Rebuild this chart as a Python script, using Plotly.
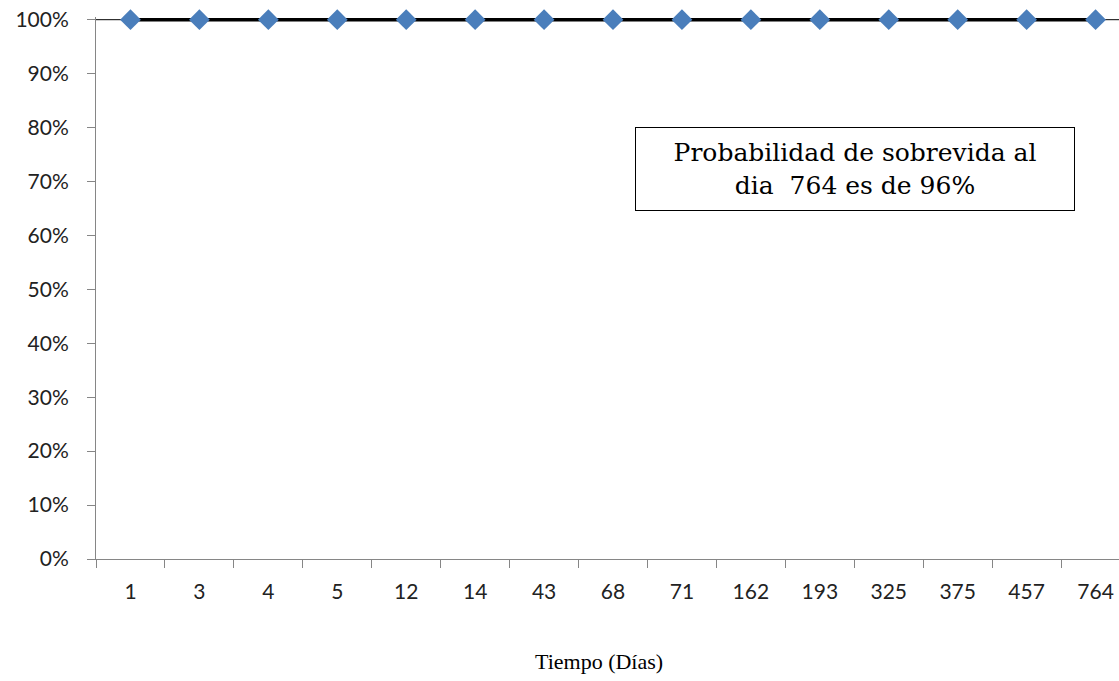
import plotly.graph_objects as go

# Survival curve: days and survival probability
dias = ["1", "3", "4", "5", "12", "14", "43", "68", "71", "162", "193", "325", "375", "457", "764"]
supervivencia = [1.0, 1.0, 1.0, 1.0, 1.0, 1.0, 1.0, 1.0, 1.0, 1.0, 1.0, 1.0, 1.0, 1.0, 1.0]
y_ticks = [0, 0.1, 0.2, 0.3, 0.4, 0.5, 0.6, 0.7, 0.8, 0.9, 1.0]

axis_grey = "#868686"
tick_font = dict(family="Lato, Open Sans, sans-serif", size=21, color="#222222")

fig = go.Figure()
fig.add_trace(go.Scatter(
    x=dias, y=supervivencia, mode="lines+markers",
    line=dict(color="black", width=3.5),
    marker=dict(symbol="diamond", size=16, color="#4A7EBB"),
    cliponaxis=False, showlegend=False,
))

# thin line along the 100% level
fig.add_shape(type="line", xref="paper", yref="y", x0=0, x1=1, y0=1, y1=1,
              line=dict(color="black", width=1), layer="below")

fig.add_annotation(
    xref="paper", yref="paper", x=0.742, y=0.72, xanchor="center", yanchor="middle",
    text="Probabilidad de sobrevida al<br>dia  764 es de 96%",
    showarrow=False, align="center",
    font=dict(family="DejaVu Serif, Liberation Serif, serif", size=25, color="black"),
    bordercolor="black", borderwidth=1, borderpad=10, bgcolor="white",
    width=418,
)

fig.add_annotation(
    xref="paper", yref="paper", x=0.4915, y=-0.19, xanchor="center", yanchor="middle",
    text="Tiempo (Días)", showarrow=False,
    font=dict(family="Liberation Serif, Times New Roman, serif", size=22, color="black"),
)

fig.update_xaxes(
    type="category", range=[-0.5, 14.34],
    showline=True, linecolor=axis_grey, linewidth=1,
    ticks="outside", tickson="boundaries", ticklen=8, tickcolor=axis_grey,
    showgrid=False, zeroline=False, tickfont=tick_font, ticklabelstandoff=14,
)
fig.update_yaxes(
    range=[0, 1.005], tickvals=y_ticks, tickformat=".0%",
    showline=True, linecolor=axis_grey, linewidth=1,
    ticks="outside", ticklen=8, tickcolor=axis_grey,
    showgrid=False, zeroline=False, tickfont=tick_font, ticklabelstandoff=14,
)

fig.update_layout(
    width=1119, height=681,
    margin=dict(l=96, r=0, t=17, b=122),
    plot_bgcolor="white", paper_bgcolor="white",
)

fig.write_html("out.html")
